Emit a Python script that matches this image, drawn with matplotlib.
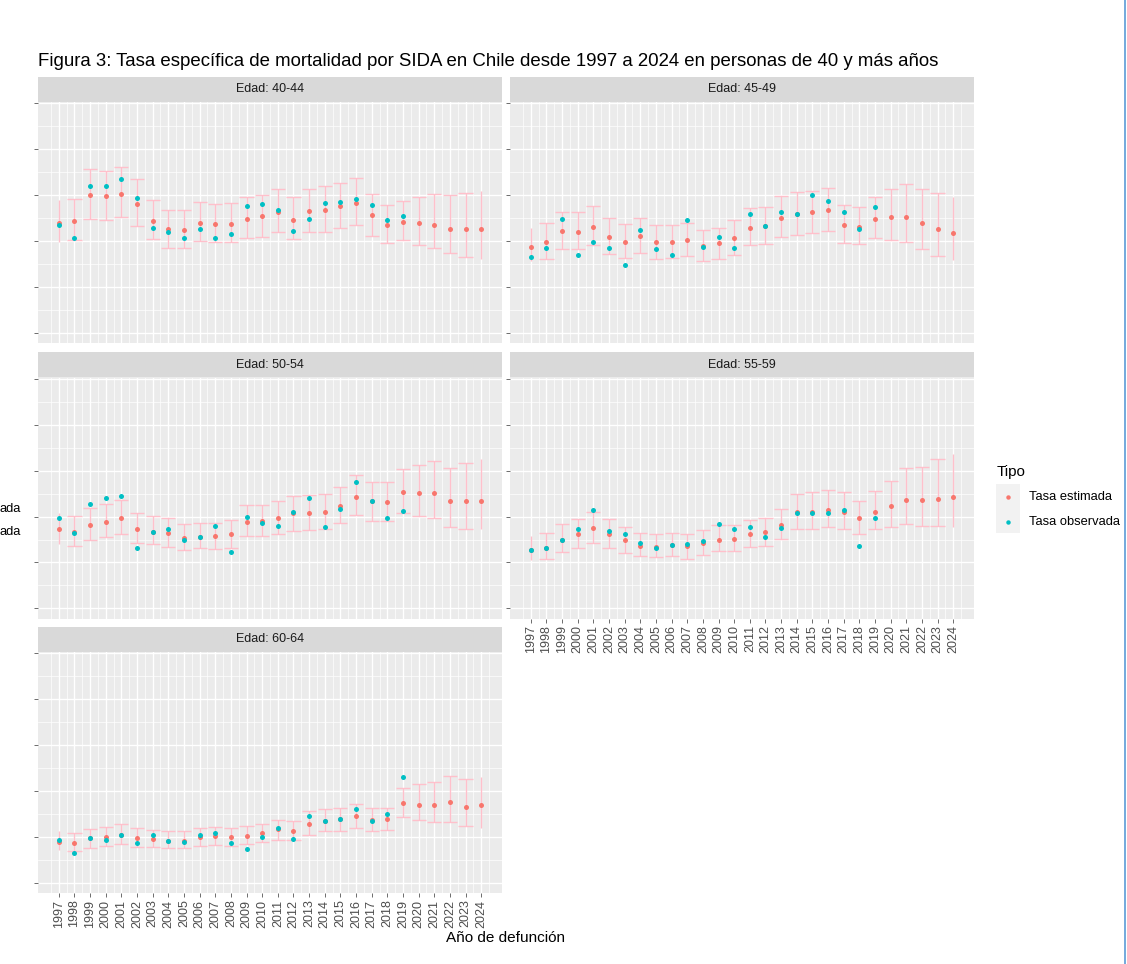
import matplotlib
matplotlib.use("Agg")
import matplotlib.pyplot as plt
import numpy as np
from matplotlib.lines import Line2D
from matplotlib.patches import Rectangle

plt.rcParams["font.family"] = ["Liberation Sans", "DejaVu Sans"]

W, H = 1127, 964

years = list(range(1997, 2025))
years_obs = years[:23]  # observed rates up to 2019

# Edad 40-44
est_4044 = [2.39, 2.44, 3.00, 2.98, 3.03, 2.81, 2.44, 2.27, 2.24, 2.40, 2.38, 2.38, 2.49, 2.54,
            2.63, 2.47, 2.65, 2.67, 2.76, 2.83, 2.56, 2.36, 2.42, 2.40, 2.36, 2.26, 2.26, 2.26]
lo_4044 = [1.99, 2.03, 2.49, 2.47, 2.52, 2.33, 2.04, 1.86, 1.86, 2.01, 1.99, 1.99, 2.07, 2.09,
           2.20, 2.05, 2.20, 2.20, 2.29, 2.34, 2.12, 1.96, 2.03, 1.91, 1.85, 1.74, 1.66, 1.62]
hi_4044 = [2.89, 2.92, 3.56, 3.53, 3.62, 3.36, 2.90, 2.68, 2.68, 2.86, 2.81, 2.84, 2.95, 3.00,
           3.13, 2.95, 3.13, 3.19, 3.27, 3.38, 3.02, 2.79, 2.88, 2.95, 3.02, 3.00, 3.04, 3.09]
obs_4044 = [2.36, 2.06, 3.21, 3.21, 3.35, 2.94, 2.28, 2.20, 2.06, 2.26, 2.06, 2.15, 2.76, 2.81,
            2.67, 2.22, 2.49, 2.83, 2.85, 2.92, 2.79, 2.47, 2.54]

# Edad 45-49
est_4549 = [1.88, 1.99, 2.22, 2.20, 2.31, 2.09, 1.97, 2.11, 1.97, 1.97, 2.02, 1.89, 1.95, 2.06,
            2.29, 2.32, 2.51, 2.58, 2.63, 2.67, 2.36, 2.31, 2.49, 2.53, 2.53, 2.40, 2.26, 2.18]
lo_4549 = [1.56, 1.62, 1.83, 1.83, 1.91, 1.72, 1.64, 1.75, 1.62, 1.64, 1.67, 1.57, 1.62, 1.70,
           1.91, 1.94, 2.10, 2.14, 2.18, 2.23, 1.96, 1.94, 2.07, 2.03, 1.98, 1.82, 1.67, 1.59]
hi_4549 = [2.28, 2.39, 2.64, 2.64, 2.77, 2.50, 2.37, 2.50, 2.34, 2.34, 2.39, 2.25, 2.29, 2.46,
           2.73, 2.75, 2.99, 3.06, 3.09, 3.16, 2.79, 2.74, 2.96, 3.13, 3.25, 3.13, 3.04, 2.97]
obs_4549 = [1.65, 1.86, 2.49, 1.70, 1.99, 1.86, 1.49, 2.24, 1.83, 1.70, 2.47, 1.88, 2.10, 1.86,
            2.58, 2.32, 2.63, 2.58, 3.01, 2.87, 2.63, 2.27, 2.74]

# Edad 50-54
est_5054 = [1.72, 1.67, 1.82, 1.88, 1.98, 1.72, 1.67, 1.64, 1.53, 1.56, 1.57, 1.61, 1.88, 1.91,
            1.98, 2.07, 2.07, 2.11, 2.23, 2.43, 2.33, 2.31, 2.54, 2.52, 2.52, 2.33, 2.33, 2.33]
lo_5054 = [1.41, 1.37, 1.48, 1.55, 1.62, 1.42, 1.40, 1.33, 1.27, 1.31, 1.29, 1.31, 1.58, 1.58,
           1.62, 1.69, 1.71, 1.74, 1.85, 2.03, 1.91, 1.91, 2.07, 2.01, 1.96, 1.78, 1.74, 1.72]
hi_5054 = [2.07, 2.01, 2.19, 2.28, 2.37, 2.07, 2.01, 1.96, 1.83, 1.87, 1.87, 1.92, 2.25, 2.25,
           2.35, 2.44, 2.46, 2.50, 2.64, 2.91, 2.75, 2.75, 3.03, 3.13, 3.21, 3.05, 3.16, 3.25]
obs_5054 = [1.96, 1.64, 2.27, 2.41, 2.45, 1.32, 1.67, 1.72, 1.48, 1.56, 1.80, 1.23, 2.00, 1.86,
            1.80, 2.10, 2.41, 1.77, 2.16, 2.76, 2.33, 1.98, 2.12]

# Edad 55-59
est_5559 = [1.28, 1.32, 1.50, 1.61, 1.75, 1.61, 1.48, 1.37, 1.33, 1.39, 1.35, 1.42, 1.50, 1.52,
            1.61, 1.66, 1.81, 2.10, 2.10, 2.15, 2.11, 1.96, 2.10, 2.23, 2.36, 2.36, 2.39, 2.43]
lo_5559 = [1.06, 1.08, 1.22, 1.31, 1.42, 1.31, 1.20, 1.14, 1.11, 1.14, 1.08, 1.16, 1.24, 1.24,
           1.33, 1.35, 1.51, 1.74, 1.74, 1.78, 1.74, 1.62, 1.74, 1.77, 1.83, 1.79, 1.79, 1.78]
hi_5559 = [1.58, 1.64, 1.83, 1.94, 2.10, 1.94, 1.77, 1.65, 1.63, 1.65, 1.61, 1.70, 1.81, 1.81,
           1.92, 1.97, 2.17, 2.50, 2.53, 2.58, 2.53, 2.35, 2.55, 2.77, 3.05, 3.09, 3.25, 3.36]
obs_5559 = [1.28, 1.32, 1.50, 1.72, 2.14, 1.68, 1.61, 1.43, 1.32, 1.39, 1.41, 1.46, 1.83, 1.72,
            1.77, 1.55, 1.75, 2.07, 2.07, 2.07, 2.15, 1.37, 1.96]

# Edad 60-64
est_6064 = [0.89, 0.87, 0.97, 1.00, 1.05, 0.98, 0.96, 0.92, 0.92, 1.01, 1.02, 1.00, 1.02, 1.09,
            1.17, 1.13, 1.29, 1.34, 1.39, 1.45, 1.38, 1.39, 1.74, 1.70, 1.70, 1.77, 1.66, 1.69]
lo_6064 = [0.71, 0.69, 0.76, 0.80, 0.85, 0.78, 0.78, 0.75, 0.75, 0.80, 0.82, 0.80, 0.85, 0.90,
           0.94, 0.94, 1.05, 1.12, 1.14, 1.19, 1.14, 1.16, 1.44, 1.36, 1.33, 1.33, 1.24, 1.20]
hi_6064 = [1.12, 1.08, 1.17, 1.21, 1.28, 1.19, 1.15, 1.12, 1.12, 1.19, 1.21, 1.19, 1.23, 1.28,
           1.37, 1.34, 1.56, 1.62, 1.64, 1.71, 1.64, 1.64, 2.07, 2.15, 2.19, 2.33, 2.26, 2.31]
obs_6064 = [0.93, 0.66, 0.97, 0.93, 1.05, 0.87, 1.05, 0.92, 0.89, 1.04, 1.09, 0.87, 0.73, 1.00,
            1.20, 0.96, 1.45, 1.34, 1.39, 1.61, 1.34, 1.50, 2.31]

groups = [
    ("Edad: 40-44", est_4044, lo_4044, hi_4044, obs_4044),
    ("Edad: 45-49", est_4549, lo_4549, hi_4549, obs_4549),
    ("Edad: 50-54", est_5054, lo_5054, hi_5054, obs_5054),
    ("Edad: 55-59", est_5559, lo_5559, hi_5559, obs_5559),
    ("Edad: 60-64", est_6064, lo_6064, hi_6064, obs_6064),
]

RED = "#F8766D"
CYAN = "#00BFC4"


def fig_rect(left, top, width, height):
    return [left / W, 1 - (top + height) / H, width / W, height / H]


def draw_panel(ax, est, lo, hi, obs, show_x):
    x = np.array(years)
    ax.set_facecolor("#EBEBEB")
    ax.vlines(x, lo, hi, color="pink", lw=1.0, zorder=2)
    inner = x[1:-1]
    ax.hlines(np.array(lo)[1:-1], inner - 0.45, inner + 0.45, color="pink", lw=1.0, zorder=2)
    ax.hlines(np.array(hi)[1:-1], inner - 0.45, inner + 0.45, color="pink", lw=1.0, zorder=2)
    ax.plot(x, est, "o", color=RED, ms=3.6, mew=0, zorder=3)
    ax.plot(years_obs, obs, "o", color=CYAN, ms=3.6, mew=0, zorder=4)

    ax.set_xlim(1997 - 1.35, 2024 + 1.35)
    ax.set_ylim(-0.22, 5.03)
    ax.set_xticks(years)
    ax.set_xticks(np.arange(1996.5, 2025, 1.0), minor=True)
    ax.set_yticks(range(0, 6))
    ax.set_yticks(np.arange(0.5, 5, 1.0), minor=True)
    ax.set_yticklabels([])
    ax.grid(which="major", color="white", lw=1.0)
    ax.grid(which="minor", color="white", lw=0.5)
    ax.set_axisbelow(True)
    for s in ax.spines.values():
        s.set_visible(False)
    ax.tick_params(which="minor", length=0)
    ax.tick_params(axis="y", which="major", length=2.75, width=0.5, color="#333333")
    if show_x:
        ax.set_xticklabels([str(y) for y in years], rotation=90, fontsize=9, color="#4D4D4D")
        ax.tick_params(axis="x", which="major", length=2.75, width=0.5, color="#333333", pad=2)
    else:
        ax.set_xticklabels([])
        ax.tick_params(axis="x", which="major", length=0)


fig = plt.figure(figsize=(W / 100, H / 100), dpi=100)

col_left = [37.7, 509.7]
panel_w = 464.6
row_top = [102, 377.5, 652]
panel_h = 241
strip_h = 24.5

for i, (label, est, lo, hi, obs) in enumerate(groups):
    r, c = divmod(i, 2)
    ax = fig.add_axes(fig_rect(col_left[c], row_top[r], panel_w, panel_h))
    draw_panel(ax, est, lo, hi, obs, show_x=(r == 2 or (r == 1 and c == 1)))
    sax = fig.add_axes(fig_rect(col_left[c], row_top[r] - strip_h - 0.5, panel_w, strip_h))
    sax.set_facecolor("#D9D9D9")
    sax.set_xticks([])
    sax.set_yticks([])
    for s in sax.spines.values():
        s.set_visible(False)
    sax.text(0.5, 0.5, label, ha="center", va="center", fontsize=9, color="#1A1A1A",
             transform=sax.transAxes)

fig.text(38 / W, 1 - 62 / H,
         "Figura 3: Tasa específica de mortalidad por SIDA en Chile desde 1997 a 2024 "
         "en personas de 40 y más años",
         ha="left", va="center", fontsize=13.4, color="black")

fig.text(506 / W, 1 - 938 / H, "Año de defunción", ha="center", va="center",
         fontsize=11, color="black")

# legend
fig.text(997 / W, 1 - 472 / H, "Tipo", ha="left", va="center", fontsize=11, color="black")
fig.patches.append(Rectangle((996 / W, 1 - 533 / H), 24 / W, 49 / H, transform=fig.transFigure,
                             facecolor="#F2F2F2", edgecolor="none"))
for yy, col, txt in [(497, RED, "Tasa estimada"), (522, CYAN, "Tasa observada")]:
    fig.lines.append(Line2D([1008 / W], [1 - yy / H], marker="o", color=col, ms=3.2, mew=0,
                            ls="none", transform=fig.transFigure))
    fig.text(1029 / W, 1 - yy / H, txt, ha="left", va="center", fontsize=9.3, color="black")

# leftover label ends at the left border
fig.text(21 / W, 1 - 509 / H, "ada", ha="right", va="center", fontsize=9.3, color="black")
fig.text(21 / W, 1 - 532 / H, "ada", ha="right", va="center", fontsize=9.3, color="black")

# border line on the right
fig.lines.append(Line2D([1124.5 / W, 1124.5 / W], [0, 1], color="#5B9BD5", lw=1.2,
                        transform=fig.transFigure))

fig.savefig("out.png", dpi=100)
